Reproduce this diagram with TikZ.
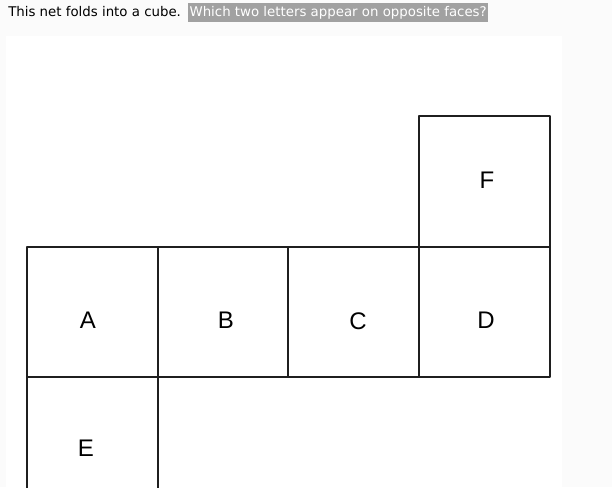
\documentclass[tikz,border=0pt]{standalone}
\usepackage{fontspec}
\setmainfont{DejaVu Sans}
\newfontfamily\letterfont{Liberation Sans}
\begin{document}
\begin{tikzpicture}[x=0.75pt,y=-0.75pt, line join=round, line cap=round,
	face/.style={draw=black!88, line width=1.4pt},
	letter/.style={font=\letterfont\fontsize{18}{21}\selectfont, inner sep=0pt},
	question/.style={anchor=base west, font=\fontsize{10}{12}\selectfont}]
	\def\s{130.7} \def\xo{27} \def\yo{116} % side, left edge, top edge
	\useasboundingbox (0,0) rectangle (612,487);
	\clip (0,0) rectangle (612,487);
	\fill[black!1.5] (0,0) rectangle (612,487);
	\fill[white] (6,36) rectangle (562,487);
	\node[question, inner sep=0pt] (q1) at (8,16) {This net folds into a cube.};
	\node[question, fill=black!37, text=white, inner xsep=1pt, inner ysep=2.5pt] (q2) at (188,16) {Which two letters appear on opposite faces?};
	% net
	\foreach \c in {0,1,2,3}
		\draw[face] (\xo+\c*\s,\yo+\s) rectangle ++(\s,\s);
	\draw[face] (\xo+3*\s,\yo) rectangle ++(\s,\s);
	\draw[face] (\xo,\yo+2*\s) rectangle ++(\s,\s);
	\node[letter] (A) at (88,320) {A};
	\node[letter] (B) at (226,320) {B};
	\node[letter] (C) at (358,321) {C};
	\node[letter] (D) at (486,320) {D};
	\node[letter] (F) at (487,180) {F};
	\node[letter] (E) at (86,448) {E};
\end{tikzpicture}
\end{document}
